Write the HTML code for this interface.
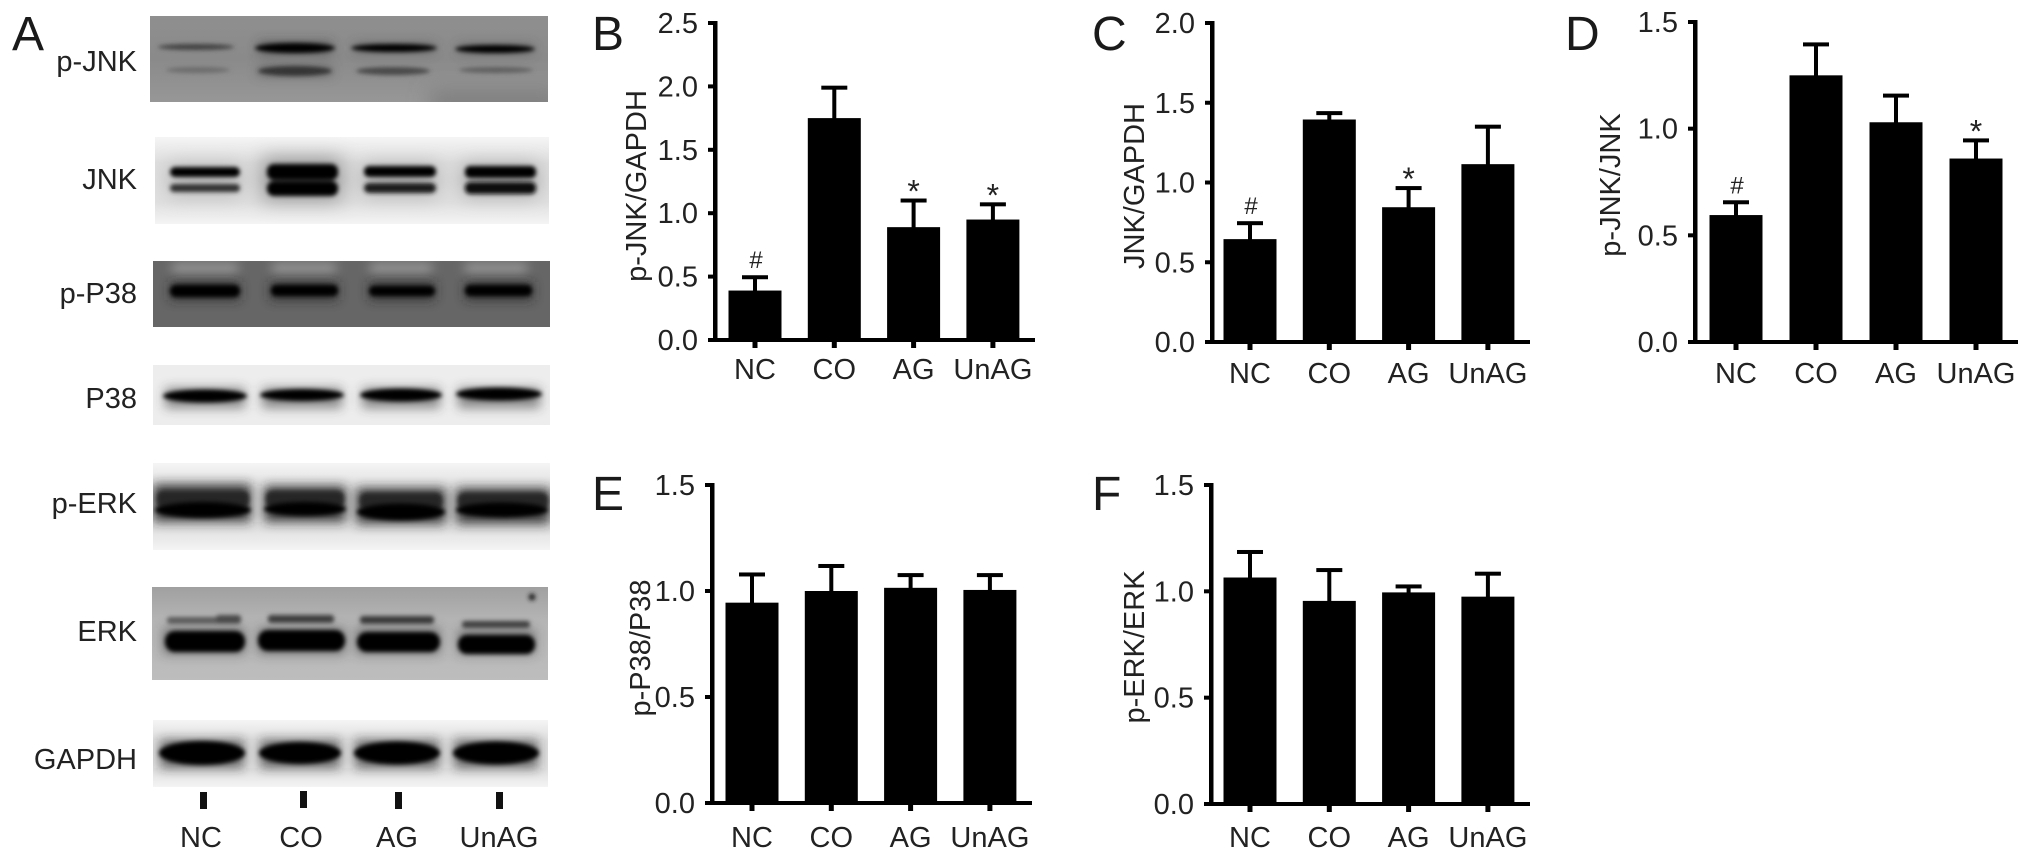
<!DOCTYPE html>
<html lang="en">
<head>
<meta charset="utf-8">
<title>Western blots and quantification of p-JNK, JNK, p-P38 and p-ERK</title>
<style>
html,body{margin:0;padding:0;background:#fff;width:2032px;height:860px;overflow:hidden}
svg{display:block}
text{font-family:"Liberation Sans",Arial,sans-serif;fill:#222}
.lbl{font-size:29px}
.panel{font-size:48px;fill:#1a1a1a}
</style>
</head>
<body>
<svg id="fig" xmlns="http://www.w3.org/2000/svg" width="2032" height="860" viewBox="0 0 2032 860">
<defs>
<filter id="f1" x="-20%" y="-300%" width="140%" height="700%"><feGaussianBlur stdDeviation="2"/></filter>
<filter id="f2" x="-20%" y="-300%" width="140%" height="700%"><feGaussianBlur stdDeviation="5.5"/></filter>
<filter id="f3" x="-20%" y="-300%" width="140%" height="700%"><feGaussianBlur stdDeviation="10"/></filter>
<linearGradient id="gFade" x1="0" y1="0" x2="0" y2="1">
<stop offset="0" stop-color="#f5f5f5"/><stop offset="0.3" stop-color="#dedede"/><stop offset="0.75" stop-color="#e0e0e0"/><stop offset="1" stop-color="#f4f4f4"/>
</linearGradient>
<linearGradient id="gPjnk" x1="0" y1="0" x2="0" y2="1">
<stop offset="0" stop-color="#8f8f8f"/><stop offset="0.5" stop-color="#8a8a8a"/><stop offset="1" stop-color="#979797"/>
</linearGradient>
<linearGradient id="gErk" x1="0" y1="0" x2="0" y2="1">
<stop offset="0" stop-color="#a0a0a0"/><stop offset="0.35" stop-color="#b4b4b4"/><stop offset="1" stop-color="#bdbdbd"/>
</linearGradient>
<clipPath id="cPjnk"><rect x="150" y="16" width="398" height="86"/></clipPath>
<clipPath id="cJnk"><rect x="155" y="137" width="394" height="87"/></clipPath>
<clipPath id="cPp38"><rect x="153" y="261" width="397" height="66"/></clipPath>
<clipPath id="cP38"><rect x="153" y="365" width="397" height="60"/></clipPath>
<clipPath id="cPerk"><rect x="153" y="463" width="397" height="87"/></clipPath>
<clipPath id="cErk"><rect x="152" y="587" width="396" height="93"/></clipPath>
<clipPath id="cGapdh"><rect x="153" y="720" width="395" height="67"/></clipPath>
</defs>

<rect x="0" y="0" width="2032" height="860" fill="#fff"/>

<!-- Panel A blots -->
<g clip-path="url(#cPjnk)">
<rect x="150" y="16" width="398" height="86" fill="url(#gPjnk)"/>
<rect x="430" y="92" width="130" height="20" fill="#7a7a7a" filter="url(#f3)"/>
<g filter="url(#f2)" opacity=".55">
<rect x="258" y="42" width="74" height="12" fill="#333"/><rect x="258" y="66" width="74" height="10" fill="#555"/><rect x="354" y="44" width="81" height="8" fill="#444"/><rect x="458" y="45" width="75" height="8" fill="#444"/>
</g>
<g filter="url(#f1)">
<ellipse cx="196" cy="47" rx="38" ry="3" fill="#3f3f3f"/>
<ellipse cx="295" cy="48" rx="40" ry="5" fill="#000"/>
<ellipse cx="394" cy="48" rx="43" ry="4" fill="#000"/>
<ellipse cx="495" cy="49" rx="40" ry="4" fill="#000"/>
<ellipse cx="198" cy="70" rx="32" ry="3" fill="#6c6c6c"/>
<ellipse cx="295" cy="71" rx="37" ry="5" fill="#353535"/>
<ellipse cx="393" cy="71" rx="37" ry="4" fill="#4a4a4a"/>
<ellipse cx="496" cy="70" rx="37" ry="3" fill="#5f5f5f"/>
</g>
</g>

<g clip-path="url(#cJnk)">
<rect x="155" y="137" width="394" height="87" fill="url(#gFade)"/>
<g filter="url(#f3)" opacity=".55">
<rect x="168" y="165" width="74" height="30" fill="#999"/><rect x="262" y="158" width="80" height="42" fill="#555"/><rect x="362" y="165" width="76" height="30" fill="#888"/><rect x="462" y="165" width="76" height="30" fill="#777"/>
</g>
<g filter="url(#f1)">
<rect x="170" y="167" width="70" height="10" rx="5" fill="#000"/>
<rect x="170" y="184" width="70" height="8" rx="4" fill="#333"/>
<rect x="267" y="164" width="71" height="16" rx="7" fill="#000"/>
<rect x="267" y="181" width="71" height="15" rx="7" fill="#000"/>
<rect x="364" y="166" width="72" height="11" rx="5" fill="#000"/>
<rect x="364" y="183" width="72" height="10" rx="5" fill="#1a1a1a"/>
<rect x="465" y="166" width="71" height="12" rx="5" fill="#000"/>
<rect x="465" y="182" width="71" height="12" rx="5" fill="#0a0a0a"/>
</g>
</g>

<g clip-path="url(#cPp38)">
<rect x="153" y="261" width="397" height="66" fill="#666"/>
<g filter="url(#f2)" fill="#9a9a9a">
<rect x="172" y="263" width="66" height="10"/><rect x="272" y="263" width="64" height="10"/><rect x="370" y="263" width="62" height="10"/><rect x="465" y="263" width="62" height="10"/>
</g>
<g filter="url(#f2)" fill="#222" opacity=".75">
<rect x="170" y="282" width="70" height="18"/><rect x="270" y="282" width="68" height="18"/><rect x="369" y="282" width="66" height="18"/><rect x="465" y="282" width="68" height="18"/>
</g>
<g filter="url(#f1)" fill="#000">
<rect x="170" y="285" width="70" height="12" rx="6"/>
<rect x="271" y="285" width="67" height="11" rx="5"/>
<rect x="369" y="286" width="66" height="10" rx="5"/>
<rect x="465" y="285" width="67" height="11" rx="5"/>
</g>
</g>

<g clip-path="url(#cP38)">
<rect x="153" y="365" width="397" height="60" fill="#ededed"/>
<g filter="url(#f2)" fill="#333" opacity=".55">
<rect x="165" y="388" width="80" height="20"/><rect x="262" y="388" width="80" height="20"/><rect x="362" y="388" width="78" height="20"/><rect x="458" y="388" width="82" height="20"/>
</g>
<g filter="url(#f1)" fill="#000">
<ellipse cx="205" cy="396" rx="42" ry="6.5"/>
<ellipse cx="302" cy="395" rx="42" ry="6"/>
<ellipse cx="401" cy="395" rx="41" ry="6.5"/>
<ellipse cx="499" cy="394" rx="43" ry="6.5"/>
</g>
</g>

<g clip-path="url(#cPerk)">
<rect x="153" y="463" width="397" height="87" fill="url(#gFade)"/>
<g filter="url(#f2)" fill="#222" opacity=".85">
<rect x="153" y="484" width="98" height="38"/><rect x="264" y="486" width="82" height="36"/><rect x="356" y="488" width="90" height="36"/><rect x="456" y="488" width="94" height="36"/>
</g>
<g filter="url(#f1)" fill="#262626">
<rect x="157" y="491" width="92" height="16" rx="6"/><rect x="266" y="491" width="78" height="16" rx="6"/><rect x="360" y="493" width="82" height="16" rx="6"/><rect x="458" y="493" width="90" height="16" rx="6"/>
</g>
<g filter="url(#f1)" fill="#000">
<ellipse cx="203" cy="510" rx="48" ry="8"/>
<ellipse cx="305" cy="509" rx="41" ry="7"/>
<ellipse cx="401" cy="512" rx="44" ry="8.5"/>
<ellipse cx="502" cy="510" rx="46" ry="7.5"/>
</g>
</g>

<g clip-path="url(#cErk)">
<rect x="152" y="587" width="396" height="93" fill="url(#gErk)"/>
<g filter="url(#f2)" fill="#333" opacity=".5">
<rect x="163" y="628" width="82" height="26"/><rect x="258" y="628" width="87" height="26"/><rect x="356" y="628" width="84" height="26"/><rect x="458" y="630" width="77" height="24"/>
</g>
<g filter="url(#f1)">
<rect x="167" y="617" width="74" height="7" rx="3" fill="#5c5c5c"/>
<rect x="216" y="615" width="25" height="8" rx="3" fill="#484848"/>
<rect x="268" y="615" width="66" height="8" rx="3" fill="#3c3c3c"/>
<rect x="360" y="616" width="74" height="8" rx="3" fill="#3a3a3a"/>
<rect x="462" y="621" width="68" height="7" rx="3" fill="#3f3f3f"/>
<rect x="165" y="631" width="80" height="21" rx="10" fill="#000"/>
<rect x="258" y="630" width="87" height="21" rx="10" fill="#000"/>
<rect x="357" y="632" width="83" height="20" rx="10" fill="#000"/>
<rect x="458" y="635" width="77" height="19" rx="9" fill="#000"/>
<circle cx="532" cy="597" r="3.5" fill="#222"/>
</g>
</g>

<g clip-path="url(#cGapdh)">
<rect x="153" y="720" width="395" height="67" fill="url(#gFade)"/>
<g filter="url(#f2)" fill="#222" opacity=".65">
<rect x="160" y="740" width="84" height="28"/><rect x="260" y="740" width="80" height="28"/><rect x="355" y="740" width="84" height="28"/><rect x="454" y="740" width="84" height="28"/>
</g>
<g filter="url(#f1)" fill="#000">
<ellipse cx="202" cy="753" rx="43" ry="12"/>
<ellipse cx="300" cy="753" rx="41" ry="11"/>
<ellipse cx="397" cy="753" rx="43" ry="11.5"/>
<ellipse cx="496" cy="753" rx="43" ry="11.5"/>
</g>
</g>

<!-- Panel A labels -->
<text class="panel" x="12" y="50">A</text>
<text class="lbl" x="137" y="71" text-anchor="end">p-JNK</text>
<text class="lbl" x="137" y="189" text-anchor="end">JNK</text>
<text class="lbl" x="137" y="303" text-anchor="end">p-P38</text>
<text class="lbl" x="137" y="408" text-anchor="end">P38</text>
<text class="lbl" x="137" y="513" text-anchor="end">p-ERK</text>
<text class="lbl" x="137" y="641" text-anchor="end">ERK</text>
<text class="lbl" x="137" y="769" text-anchor="end">GAPDH</text>
<g fill="#111">
<rect x="200" y="792" width="7" height="17"/>
<rect x="300" y="791" width="7" height="17"/>
<rect x="395" y="792" width="7" height="17"/>
<rect x="496" y="792" width="7" height="17"/>
</g>
<text class="lbl" x="201" y="847" text-anchor="middle">NC</text>
<text class="lbl" x="301" y="847" text-anchor="middle">CO</text>
<text class="lbl" x="397" y="847" text-anchor="middle">AG</text>
<text class="lbl" x="499" y="847" text-anchor="middle">UnAG</text>

<text class="panel" x="592" y="50">B</text>
<text class="panel" x="1092" y="50">C</text>
<text class="panel" x="1565" y="50">D</text>
<text class="panel" x="592" y="510">E</text>
<text class="panel" x="1092" y="510">F</text>
</svg>

<script>
// Chart data
const categories = ["NC", "CO", "AG", "UnAG"];

const ticksB = ["0.0", "0.5", "1.0", "1.5", "2.0", "2.5"];
const valuesB = [0.39, 1.75, 0.89, 0.95];
const errorsB = [0.105, 0.24, 0.21, 0.12];
const marksB = ["#", "", "*", "*"];

const ticksC = ["0.0", "0.5", "1.0", "1.5", "2.0"];
const valuesC = [0.645, 1.395, 0.845, 1.115];
const errorsC = [0.10, 0.04, 0.12, 0.235];
const marksC = ["#", "", "*", ""];

const ticksD = ["0.0", "0.5", "1.0", "1.5"];
const valuesD = [0.595, 1.25, 1.03, 0.86];
const errorsD = [0.06, 0.145, 0.125, 0.085];
const marksD = ["#", "", "", "*"];

const ticksE = ["0.0", "0.5", "1.0", "1.5"];
const valuesE = [0.945, 1.0, 1.015, 1.005];
const errorsE = [0.133, 0.118, 0.06, 0.07];
const marksE = ["", "", "", ""];

const ticksF = ["0.0", "0.5", "1.0", "1.5"];
const valuesF = [1.065, 0.955, 0.995, 0.975];
const errorsF = [0.12, 0.145, 0.028, 0.108];
const marksF = ["", "", "", ""];

const SVGNS = "http://www.w3.org/2000/svg";
const fig = document.getElementById("fig");

function mk(parent, tag, attrs, txt) {
  const n = document.createElementNS(SVGNS, tag);
  for (const k in attrs) n.setAttribute(k, attrs[k]);
  if (txt !== undefined) n.textContent = txt;
  parent.appendChild(n);
  return n;
}

function drawChart(name, title, ticks, values, errors, marks, frame) {
  const yMax = parseFloat(ticks[ticks.length - 1]);
  const yScale = v => frame.base - (v / yMax) * (frame.base - frame.top);
  const xScale = i => frame.x0 + i * frame.step;

  const g = mk(fig, "g", {});
  
  

  values.forEach(function (v, i) {
    const cx = xScale(i);
    const topY = yScale(v + errors[i]);
    const stem = mk(g, "rect", { x: cx - 2, y: topY, width: 4, height: yScale(v) - topY + 1, fill: "#000" });
    
    
    const cap = mk(g, "rect", { x: cx - 13, y: topY - 2, width: 26, height: 4, fill: "#000" });
    
    
    const bar = mk(g, "rect", { x: cx - 26.5, y: yScale(v), width: 53, height: frame.base - yScale(v), fill: "#000" });
    
    
    if (marks[i]) {
      const isHash = marks[i] === "#";
      const m = mk(g, "text", {
        x: cx + (isHash ? 1 : 0),
        y: isHash ? topY - 9 : topY + 2,
        "text-anchor": "middle",
        "font-size": isHash ? 24 : 32
      }, marks[i]);
      
      
    }
    const xt = mk(g, "rect", { x: cx - 2.5, y: frame.base, width: 5, height: 8, fill: "#000" });
    
    
    const xl = mk(g, "text", { class: "lbl", x: cx, y: frame.labelY, "text-anchor": "middle" }, categories[i]);
    
    
  });

  const ya = mk(g, "rect", { x: frame.axis - 2, y: frame.top - 2, width: 4.5, height: frame.base - frame.top + 4, fill: "#000" });
  
  
  const xa = mk(g, "rect", { x: frame.axis - 7, y: frame.base - 2, width: frame.xEnd - frame.axis + 7, height: 4, fill: "#000" });
  
  

  ticks.forEach(function (t) {
    const y = yScale(parseFloat(t));
    const tk = mk(g, "rect", { x: frame.axis - 7, y: y - 2, width: 7, height: 4, fill: "#000" });
    
    
    const tl = mk(g, "text", { class: "lbl", x: frame.axis - 17, y: y + 10, "text-anchor": "end" }, t);
    
    
  });

  const yt = mk(g, "text", {
    class: "lbl",
    transform: "translate(" + frame.titleX + "," + frame.titleY + ") rotate(-90)",
    "text-anchor": "middle"
  }, title);
  
  
}

drawChart("p-jnk-gapdh", "p-JNK/GAPDH", ticksB, valuesB, errorsB, marksB,
  { axis: 715, top: 23, base: 340, x0: 755, step: 79.3, xEnd: 1035, labelY: 379, titleX: 646, titleY: 186 });
drawChart("jnk-gapdh", "JNK/GAPDH", ticksC, valuesC, errorsC, marksC,
  { axis: 1212, top: 23, base: 342, x0: 1250, step: 79.3, xEnd: 1530, labelY: 383, titleX: 1144, titleY: 186 });
drawChart("p-jnk-jnk", "p-JNK/JNK", ticksD, valuesD, errorsD, marksD,
  { axis: 1695, top: 22, base: 342, x0: 1736, step: 80, xEnd: 2018, labelY: 383, titleX: 1620, titleY: 185 });
drawChart("p-p38-p38", "p-P38/P38", ticksE, valuesE, errorsE, marksE,
  { axis: 712, top: 485, base: 803, x0: 752, step: 79.3, xEnd: 1032, labelY: 847, titleX: 650, titleY: 648 });
drawChart("p-erk-erk", "p-ERK/ERK", ticksF, valuesF, errorsF, marksF,
  { axis: 1211, top: 485, base: 804, x0: 1250, step: 79.3, xEnd: 1530, labelY: 847, titleX: 1144, titleY: 647 });
</script>
</body>
</html>
